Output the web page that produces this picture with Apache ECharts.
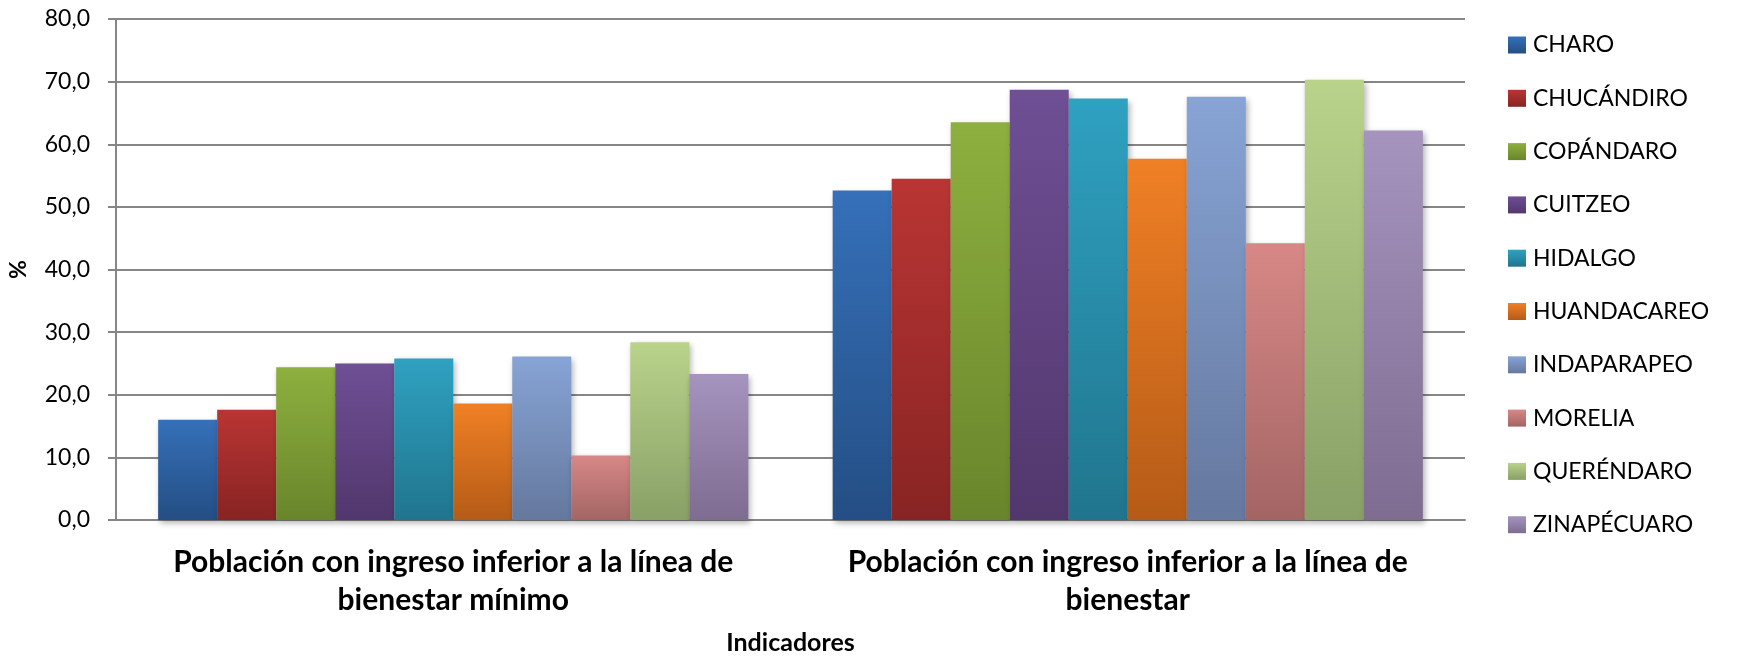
<!DOCTYPE html>
<html><head><meta charset="utf-8">
<script src="https://cdn.jsdelivr.net/npm/echarts@6/dist/echarts.min.js"></script>
<style>html,body{margin:0;padding:0;background:#fff}#c{width:1752px;height:657px}</style>
</head><body><div id="c"></div>
<script>
const categories = ['Población con ingreso inferior a la línea de\nbienestar mínimo', 'Población con ingreso inferior a la línea de\nbienestar'];
const municipios = ['CHARO','CHUCÁNDIRO','COPÁNDARO','CUITZEO','HIDALGO','HUANDACAREO','INDAPARAPEO','MORELIA','QUERÉNDARO','ZINAPÉCUARO'];
const charo = [16.0, 52.6];
const chucandiro = [17.6, 54.5];
const copandaro = [24.4, 63.5];
const cuitzeo = [25.0, 68.7];
const hidalgo = [25.8, 67.3];
const huandacareo = [18.6, 57.7];
const indaparapeo = [26.1, 67.6];
const morelia = [10.3, 44.2];
const querendaro = [28.4, 70.3];
const zinapecuaro = [23.3, 62.2];
const yTicks = [0, 10, 20, 30, 40, 50, 60, 70, 80];

const values = [charo, chucandiro, copandaro, cuitzeo, hidalgo, huandacareo, indaparapeo, morelia, querendaro, zinapecuaro];
const colorTop = ['#3570b9','#b93533','#8db03f','#6f4f95','#2fa1c1','#f08025','#87a4d5','#d78886','#b9d38b','#a594be'];
const colorBot = ['#244e84','#872423','#69852b','#51376c','#20758d','#b55b17','#65789e','#a36564','#89a066','#7e6c91'];

const font = 'Lato, "Open Sans", sans-serif';
const chart = echarts.init(document.getElementById('c'));
chart.setOption({
  animation: false,
  grid: {left: 116, right: 287, top: 19, bottom: 137, containLabel: false, outerBoundsMode: 'none'},
  legend: {
    orient: 'vertical', left: 1503, top: 27, itemWidth: 18, itemHeight: 17, itemGap: 27.3,
    icon: 'rect',
    textStyle: {fontFamily: font, fontSize: 23, color: '#000', lineHeight: 26, padding: [0,0,0,2]},
    data: municipios
  },
  xAxis: {
    type: 'category', data: categories,
    name: 'Indicadores', nameLocation: 'middle', nameGap: 110,
    nameTextStyle: {fontFamily: font, fontSize: 25, fontWeight: 'bold', color: '#000'},
    axisLine: {lineStyle: {color: '#868686', width: 2}},
    axisTick: {show: false},
    axisLabel: {fontFamily: font, fontSize: 30, fontWeight: 'bold', color: '#000', margin: 23, lineHeight: 38, interval: 0}
  },
  yAxis: {
    type: 'value', min: yTicks[0], max: yTicks[yTicks.length-1], interval: 10,
    name: '%', nameLocation: 'middle', nameGap: 86, nameRotate: 90,
    nameTextStyle: {fontFamily: font, fontSize: 23, fontWeight: 'bold', color: '#000'},
    axisLine: {show: true, lineStyle: {color: '#868686', width: 2}},
    axisTick: {show: true, length: 8, lineStyle: {color: '#868686', width: 2}},
    axisLabel: {fontFamily: font, fontSize: 23, color: '#000', margin: 26,
      formatter: v => v.toFixed(1).replace('.', ',')},
    splitLine: {lineStyle: {color: '#868686', width: 2}}
  },
  series: municipios.map((m, i) => ({
    name: m, type: 'bar', data: values[i],
    barGap: '0%', barCategoryGap: '12.5%',
    itemStyle: {
      color: new echarts.graphic.LinearGradient(0, 0, 0, 1, [{offset: 0, color: colorTop[i]}, {offset: 1, color: colorBot[i]}]),
      shadowColor: 'rgba(0,0,0,0.3)', shadowBlur: 6, shadowOffsetX: 2, shadowOffsetY: 3
    }
  }))
});
</script></body></html>
